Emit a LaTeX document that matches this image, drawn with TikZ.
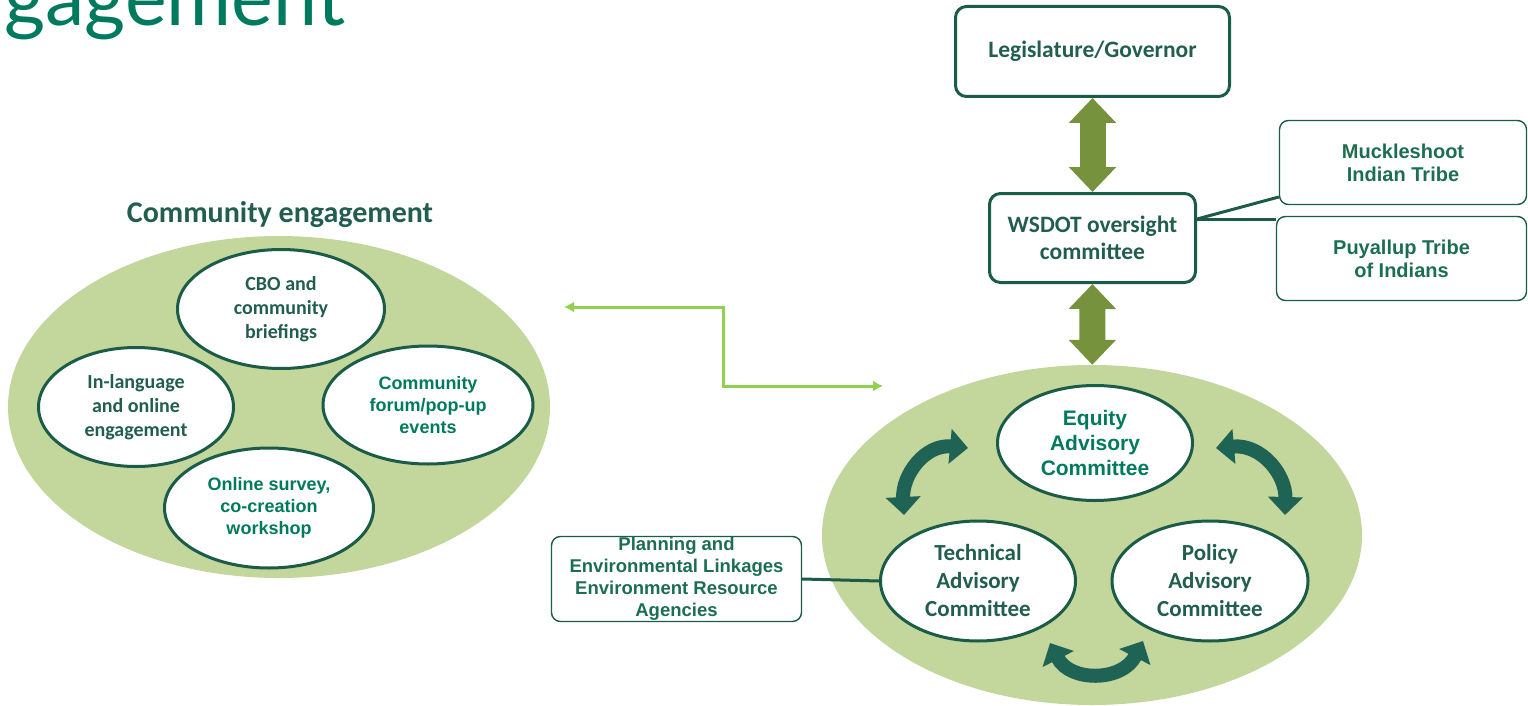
\documentclass[tikz,border=0pt]{standalone}
\usepackage{fontspec}
\setmainfont{Carlito}
\newfontfamily\arialfont{Liberation Sans}
\newfontfamily\titlefont{Lato}
\usetikzlibrary{shapes.geometric,arrows.meta}

\definecolor{panelgreen}{RGB}{195,214,155}
\definecolor{rimgreen}{RGB}{26,92,72}
\definecolor{labelgreen}{RGB}{33,94,79}
\definecolor{tealtext}{RGB}{0,122,94}
\definecolor{tribetext}{RGB}{28,110,80}
\definecolor{olivearrow}{RGB}{118,146,60}
\definecolor{turngreen}{RGB}{31,99,85}
\definecolor{linkgreen}{RGB}{146,208,80}

\tikzset{
	panel/.style={ellipse, fill=panelgreen, inner sep=0pt},
	oval/.style={ellipse, draw=rimgreen, line width=3pt, fill=white, align=center, inner sep=0pt,
		text=labelgreen, font=\bfseries\fontsize{20}{24}\selectfont},
	arialoval/.style={oval, text=tealtext, font=\arialfont\bfseries\fontsize{18}{22}\selectfont},
	govbox/.style={draw=rimgreen, line width=3pt, rounded corners=11pt, align=center, inner sep=0pt,
		text=labelgreen, font=\bfseries\fontsize{23.5}{27}\selectfont},
	tribebox/.style={draw=rimgreen, line width=1.4pt, rounded corners=9pt, align=center, inner sep=0pt,
		text=tribetext, font=\arialfont\bfseries\fontsize{20}{23}\selectfont},
	fatarrow/.style={draw=olivearrow, line width=26pt, {Triangle[length=25pt,width=46pt]}-{Triangle[length=25pt,width=46pt]}},
	turnarrow/.style={draw=turngreen, line width=14pt, {Triangle[length=18pt,width=34pt]}-{Triangle[length=18pt,width=34pt]}},
	linkarrow/.style={draw=linkgreen, line width=3pt, {Latex[length=10pt,width=11pt]}-{Latex[length=10pt,width=11pt]}},
	tieline/.style={draw=rimgreen, line width=3pt}
}

\begin{document}
\begin{tikzpicture}[x=1pt,y=-1pt]
	\useasboundingbox (0,0) rectangle (1528,706);
	
	\node[anchor=base west, text=tealtext, font=\titlefont\fontsize{79}{86}\selectfont, inner sep=0pt] (pagetitle) at (4,26) {gagement};
	
	\node[panel, minimum width=542pt, minimum height=342pt] (community) at (279,407) {};
	\node[text=labelgreen, font=\bfseries\fontsize{30}{34}\selectfont] (commtitle) at (280,215) {Community engagement};
	\node[oval, minimum width=207pt, minimum height=119pt] (cbo) at (281,309) {CBO and\\community\\briefings};
	\node[oval, minimum width=195pt, minimum height=119pt] (inlang) at (136,407) {In-language\\and online\\engagement};
	\node[arialoval, minimum width=210pt, minimum height=118pt] (forum) at (428,405) {Community\\forum/pop-up\\events};
	\node[arialoval, minimum width=209pt, minimum height=120pt] (survey) at (269,508) {Online survey,\\co-creation\\workshop};
	
	\node[govbox, minimum width=274pt, minimum height=90pt] (legis) at (1092.5,51.5) {Legislature/Governor};
	\node[govbox, minimum width=206pt, minimum height=89pt] (wsdot) at (1092.5,238) {WSDOT oversight\\committee};
	\node[tribebox, minimum width=247pt, minimum height=84pt] (muckle) at (1403,162.5) {Muckleshoot\\Indian Tribe};
	\node[tribebox, minimum width=250pt, minimum height=84pt] (puyallup) at (1401.5,258.5) {Puyallup Tribe\\of Indians};
	
	\node[panel, minimum width=540pt, minimum height=340pt] (advisory) at (1092,535) {};
	\node[arialoval, minimum width=195pt, minimum height=115pt, font=\arialfont\bfseries\fontsize{21}{25}\selectfont] (equity) at (1095,443) {Equity\\Advisory\\Committee};
	\node[oval, minimum width=195pt, minimum height=120pt, font=\bfseries\fontsize{23}{28}\selectfont] (technical) at (978,581) {Technical\\Advisory\\Committee};
	\node[oval, minimum width=196pt, minimum height=120pt, font=\bfseries\fontsize{23}{28}\selectfont] (policy) at (1210,581) {Policy\\Advisory\\Committee};
	\node[tribebox, minimum width=250pt, minimum height=85pt, font=\arialfont\bfseries\fontsize{18.5}{22}\selectfont] (planning) at (676.5,579) {Planning and\\Environmental Linkages\\Environment Resource\\Agencies};
	
	\draw[fatarrow] (legis) -- (wsdot);
	\draw[fatarrow] (wsdot) -- (advisory);
	
	\coordinate (tribejoin) at ([yshift=19pt]wsdot.east);
	\draw[tieline] (tribejoin) -- ([yshift=-34.5pt]muckle.west);
	\draw[tieline] (tribejoin) -- (tribejoin -| puyallup.west);
	\draw[tieline] (planning.east) -- (technical.west);
	
	\coordinate (linkleft) at (564,307);
	\coordinate (linkright) at (883,386);
	\draw[linkarrow] (linkleft) -- ++(159,0) |- (linkright);
	
	\coordinate (eqtechtop) at (968,448);
	\coordinate (eqtechlow) at (904,515);
	\coordinate (eqpoltop) at (1216,448);
	\coordinate (eqpollow) at (1285,515);
	\coordinate (techpolleft) at (1050,643);
	\coordinate (techpolright) at (1143,641);
	\draw[turnarrow] (eqtechtop) .. controls (925,444) and (902,475) .. (eqtechlow);
	\draw[turnarrow] (eqpoltop) .. controls (1262,444) and (1286,475) .. (eqpollow);
	\draw[turnarrow] (techpolleft) .. controls (1070,682) and (1122,682) .. (techpolright);
\end{tikzpicture}
\end{document}
